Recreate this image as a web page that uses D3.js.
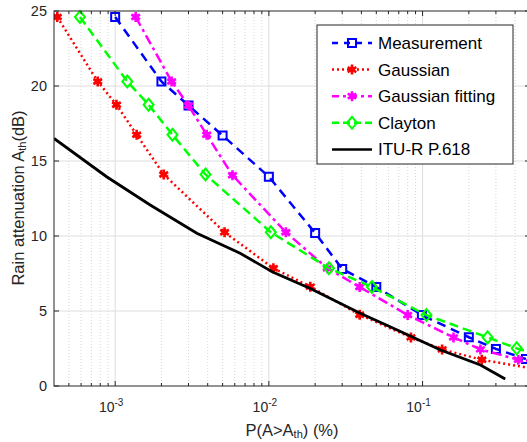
<!DOCTYPE html>
<html>
<head>
<meta charset="utf-8">
<script src="https://cdn.jsdelivr.net/npm/d3@7"></script>
<style>
    body { margin: 0; background: #fff; }
    svg { font-family: "Liberation Sans", Arial, sans-serif; }
</style>
</head>
<body>
<div id="chart"></div>
<script>
// values (x is probability in %, y is attenuation in dB)
const measX = [1e-3, 2e-3, 3e-3, 5e-3, 1e-2, 2e-2, 3e-2, 5e-2, 0.099, 0.2, 0.3, 0.47];
const measY = [24.6, 20.3, 18.7, 16.7, 13.95, 10.2, 7.8, 6.6, 4.73, 3.25, 2.47, 1.8];

const gaussX = [4.2e-4, 7.7e-4, 1.02e-3, 1.38e-3, 2.07e-3, 5.15e-3, 1.07e-2, 1.86e-2, 3.9e-2, 8.4e-2, 0.134, 0.243, 0.6];
const gaussY = [24.6, 20.3, 18.75, 16.75, 14.1, 10.25, 7.85, 6.62, 4.75, 3.24, 2.44, 1.75, 1.05];

const fitX = [1.36e-3, 2.33e-3, 3e-3, 3.94e-3, 5.8e-3, 1.29e-2, 2.4e-2, 3.9e-2, 8e-2, 0.159, 0.238, 0.42, 0.6];
const fitY = [24.6, 20.3, 18.7, 16.75, 14.05, 10.25, 7.85, 6.6, 4.73, 3.24, 2.44, 1.75, 1.6];

const clayX = [5.9e-4, 1.2e-3, 1.65e-3, 2.36e-3, 3.87e-3, 1.03e-2, 2.46e-2, 4.68e-2, 0.106, 0.265, 0.41, 0.7];
const clayY = [24.6, 20.3, 18.75, 16.75, 14.1, 10.25, 7.85, 6.6, 4.73, 3.24, 2.51, 1.8];

const ituX = [4e-4, 8.8e-4, 1.69e-3, 3.4e-3, 6.5e-3, 1.05e-2, 1.86e-2, 3.93e-2, 6.15e-2, 0.131, 0.238, 0.345];
const ituY = [16.5, 13.95, 12.07, 10.18, 8.85, 7.62, 6.5, 4.85, 3.95, 2.4, 1.4, 0.47];

const seriesNames = ["Measurement", "Gaussian", "Gaussian fitting", "Clayton", "ITU-R P.618"];
const xMajorTicks = [1e-3, 1e-2, 1e-1];
const yTicks = [0, 5, 10, 15, 20, 25];

var width = 527, height = 442;
var plot = {left: 54, top: 11, right: 530, bottom: 386};
var axisColor = "#262626";

var svg = d3.select("#chart").append("svg")
    .attr("width", width)
    .attr("height", height);

svg.append("rect").attr("width", width).attr("height", height).attr("fill", "#fff");

var x = d3.scaleLog().domain([4e-4, 0.5]).range([plot.left, plot.right]);
var y = d3.scaleLinear().domain([0, 25]).range([plot.bottom, plot.top]);

// minor ticks 2..9 for every decade inside the domain
function minorTicks() {
    var ticks = [];
    for (var e = -4; e <= -1; e++) {
        for (var m = 2; m <= 9; m++) {
            var v = m * Math.pow(10, e);
            if (v > 4e-4 && v < 0.5) ticks.push(v);
        }
    }
    return ticks;
}
var xMinor = minorTicks();

//grid lines
var grid = svg.append("g");
grid.selectAll(".minor").data(xMinor).join("line")
    .attr("x1", d => x(d)).attr("x2", d => x(d))
    .attr("y1", plot.top).attr("y2", plot.bottom)
    .attr("stroke", "#cccccc").attr("stroke-width", 0.8)
    .attr("stroke-dasharray", "1,2");
grid.selectAll(".major").data(xMajorTicks).join("line")
    .attr("x1", d => x(d)).attr("x2", d => x(d))
    .attr("y1", plot.top).attr("y2", plot.bottom)
    .attr("stroke", "#dedede").attr("stroke-width", 1);
grid.selectAll(".hgrid").data(yTicks.slice(1, -1)).join("line")
    .attr("x1", plot.left).attr("x2", plot.right)
    .attr("y1", d => y(d)).attr("y2", d => y(d))
    .attr("stroke", "#dedede").attr("stroke-width", 1);

// clip so the curves stop at the box
svg.append("clipPath").attr("id", "clip")
    .append("rect")
    .attr("x", plot.left).attr("y", plot.top - 6)
    .attr("width", plot.right - plot.left).attr("height", plot.bottom - plot.top + 6);

var series = [
    {name: seriesNames[0], xs: measX, ys: measY, color: "#0000ff", dash: "9,6", marker: "square"},
    {name: seriesNames[1], xs: gaussX, ys: gaussY, color: "#ff0000", dash: "2,3", marker: "star"},
    {name: seriesNames[2], xs: fitX, ys: fitY, color: "#ff00ff", dash: "10,4,3,4", marker: "star"},
    {name: seriesNames[3], xs: clayX, ys: clayY, color: "#00ff00", dash: "9,5", marker: "diamond"},
    {name: seriesNames[4], xs: ituX, ys: ituY, color: "#000000", dash: null, marker: null}
];

var line = d3.line()
    .x(d => x(d[0]))
    .y(d => y(d[1]));

function drawMarker(g, type, color) {
    if (type == "square") {
        g.append("rect").attr("x", -4).attr("y", -4).attr("width", 8).attr("height", 8)
            .attr("fill", "none").attr("stroke", color).attr("stroke-width", 2);
    } else if (type == "diamond") {
        g.append("path").attr("d", "M0,-6L5,0L0,6L-5,0Z")
            .attr("fill", "none").attr("stroke", color).attr("stroke-width", 2);
    } else if (type == "star") {
        g.append("path").attr("d", d3.symbol(d3.symbolAsterisk, 70)())
            .attr("fill", "none").attr("stroke", color).attr("stroke-width", 2.6);
        g.append("circle").attr("r", 3).attr("fill", color);
    }
}

var curves = svg.append("g").attr("clip-path", "url(#clip)");
series.forEach(function(s) {
    var pts = s.xs.map((v, i) => [v, s.ys[i]]);
    curves.append("path")
        .datum(pts)
        .attr("d", line)
        .attr("fill", "none")
        .attr("stroke", s.color)
        .attr("stroke-width", s.marker ? 2.5 : 2.8)
        .attr("stroke-dasharray", s.dash);
    if (s.marker) {
        pts.forEach(function(p) {
            var g = curves.append("g").attr("transform", `translate(${x(p[0])},${y(p[1])})`);
            drawMarker(g, s.marker, s.color);
        });
    }
});

// box and ticks
var axes = svg.append("g").attr("stroke", axisColor).attr("stroke-width", 1);
axes.append("rect")
    .attr("x", plot.left).attr("y", plot.top)
    .attr("width", plot.right - plot.left).attr("height", plot.bottom - plot.top)
    .attr("fill", "none");
[plot.bottom, plot.top].forEach(function(edge) {
    var dir = edge == plot.bottom ? -1 : 1;
    axes.selectAll(null).data(xMajorTicks).join("line")
        .attr("x1", d => x(d)).attr("x2", d => x(d))
        .attr("y1", edge).attr("y2", edge + dir * 5);
    axes.selectAll(null).data(xMinor).join("line")
        .attr("x1", d => x(d)).attr("x2", d => x(d))
        .attr("y1", edge).attr("y2", edge + dir * 3);
});
[plot.left, plot.right].forEach(function(edge) {
    var dir = edge == plot.left ? 1 : -1;
    axes.selectAll(null).data(yTicks).join("line")
        .attr("x1", edge).attr("x2", edge + dir * 5)
        .attr("y1", d => y(d)).attr("y2", d => y(d));
});

// tick labels
svg.append("g").selectAll("text").data(yTicks).join("text")
    .attr("x", plot.left - 7)
    .attr("y", d => y(d) + 5)
    .attr("text-anchor", "end")
    .attr("font-size", 14.5)
    .attr("fill", axisColor)
    .text(d => d);

var xl = svg.append("g").selectAll("text").data(xMajorTicks).join("text")
    .attr("x", d => x(d) - 4)
    .attr("y", 412)
    .attr("text-anchor", "middle")
    .attr("font-size", 14)
    .attr("fill", axisColor);
xl.append("tspan").text("10");
xl.append("tspan").attr("dy", -6).attr("font-size", 10).text(d => Math.round(Math.log10(d)));

// axis titles
var xt = svg.append("text")
    .attr("x", 292).attr("y", 436)
    .attr("text-anchor", "middle")
    .attr("font-size", 16.5)
    .attr("fill", axisColor);
xt.append("tspan").text("P(A>A");
xt.append("tspan").attr("font-size", 11).attr("dy", 2).text("th");
xt.append("tspan").attr("dy", -2).text(") (%)");

var yt = svg.append("text")
    .attr("transform", "translate(24,198) rotate(-90)")
    .attr("text-anchor", "middle")
    .attr("font-size", 16.5)
    .attr("fill", axisColor);
yt.append("tspan").text("Rain attenuation A");
yt.append("tspan").attr("font-size", 11).attr("dy", 2).text("th");
yt.append("tspan").attr("dy", -2).text("(dB)");

// legend
var legend = svg.append("g").attr("transform", "translate(317,25)");
legend.append("rect")
    .attr("width", 196).attr("height", 139)
    .attr("fill", "#fff").attr("stroke", axisColor).attr("stroke-width", 1);
var legendDash = ["6,6", "2,3", "7,4,3,4", "7,4", null];
series.forEach(function(s, i) {
    var row = legend.append("g").attr("transform", `translate(0,${18 + i * 26.6})`);
    row.append("line")
        .attr("x1", 15).attr("x2", 55)
        .attr("stroke", s.color).attr("stroke-width", 2.5)
        .attr("stroke-dasharray", legendDash[i]);
    if (s.marker) {
        var g = row.append("g").attr("transform", "translate(35,0)");
        drawMarker(g, s.marker, s.color);
    }
    row.append("text")
        .attr("x", 61).attr("y", 6)
        .attr("font-size", 17)
        .attr("fill", "#000")
        .text(s.name);
});
</script>
</body>
</html>
